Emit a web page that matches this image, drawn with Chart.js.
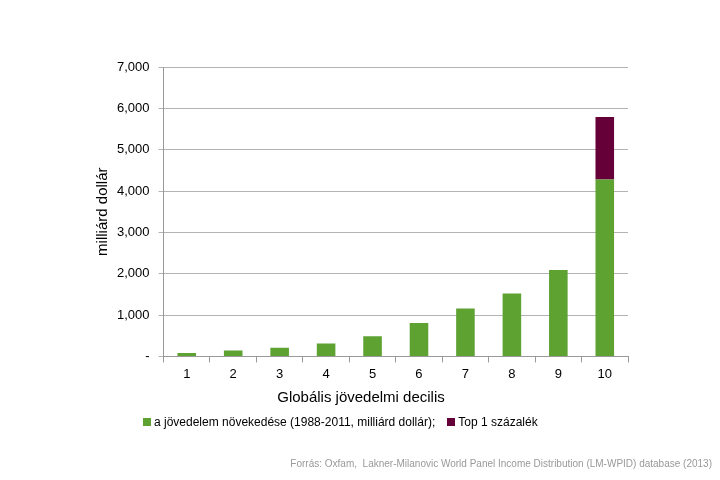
<!DOCTYPE html>
<html>
<head>
<meta charset="utf-8">
<script src="https://cdn.jsdelivr.net/npm/chart.js@4/dist/chart.umd.min.js"></script>
<style>
  body { margin: 0; background: #fff; font-family: "Liberation Sans", Arial, sans-serif; }
  #wrap { position: relative; width: 720px; height: 480px; }
  #legend { position: absolute; left: 143px; top: 415px; font-size: 12px; color: #000; }
  #legend span.item { margin-right: 12px; }
  #legend span.box { display: inline-block; width: 8px; height: 8px; margin-right: 3px; }
  #forras { position: absolute; right: 8px; top: 458px; font-size: 10px; color: #999; }
</style>
</head>
<body>
<div id="wrap">
  <canvas id="ch1" width="720" height="480"></canvas>
  <div id="legend"></div>
  <div id="forras">Forrás: Oxfam,&nbsp; Lakner-Milanovic World Panel Income Distribution (LM-WPID) database (2013)</div>
</div>
<script>
var decilisek = ["1", "2", "3", "4", "5", "6", "7", "8", "9", "10"];
var novekedes = [80, 145, 210, 315, 490, 805, 1160, 1520, 2090, 4280];
var top1 = [null, null, null, null, null, null, null, null, null, 1510];
var nevek = ["a jövedelem növekedése (1988-2011, milliárd dollár);", "Top 1 százalék"];
var szinek = ["#5ea232", "#660038"];

const ctx = document.getElementById('ch1');

var myChart = new Chart(ctx, {
    type: 'bar',
    data: {
        labels: decilisek,
        datasets: [{
            label: nevek[0],
            data: novekedes,
            backgroundColor: szinek[0],
            barPercentage: 0.4,
            categoryPercentage: 1
        }, {
            label: nevek[1],
            data: top1,
            backgroundColor: szinek[1],
            barPercentage: 0.4,
            categoryPercentage: 1
        }]
    },
    options: {
        responsive: false,
        animation: false,
        layout: {
            padding: { left: 94, right: 92, top: 67, bottom: 73 }
        },
        scales: {
            x: {
                stacked: true,
                grid: { offset: true, drawOnChartArea: false, tickLength: 6, color: "#999" },
                border: { color: "#999" },
                ticks: { color: "#000", font: { family: "Liberation Sans", size: 13 }, padding: 4 }
            },
            y: {
                stacked: true,
                min: 0,
                max: 7000,
                grid: { color: "#b3b3b3", tickLength: 5 },
                border: { color: "#999" },
                ticks: {
                    stepSize: 1000,
                    padding: 9,
                    color: "#000",
                    font: { family: "Liberation Sans", size: 13 },
                    callback: function (v) {
                        if (v == 0) return "-";
                        return v.toLocaleString("en-US");
                    }
                },
                title: {
                    display: true,
                    text: "milliárd dollár",
                    color: "#000",
                    font: { family: "Liberation Sans", size: 15 },
                    padding: { top: 0, bottom: -4 }
                }
            }
        },
        plugins: {
            title: {
                display: true,
                position: "bottom",
                text: "Globális jövedelmi decilis",
                color: "#000",
                font: { family: "Liberation Sans", size: 15, weight: "normal" },
                padding: { top: 3, bottom: 0 }
            },
            legend: { display: false },
            tooltip: { enabled: false }
        }
    }
});

// jelmagyarazat
var legend = document.getElementById("legend");
for (var i = 0; i < nevek.length; i++) {
    legend.innerHTML += '<span class="item"><span class="box" style="background:' + szinek[i] + '"></span>' + nevek[i] + '</span>';
}
</script>
</body>
</html>
